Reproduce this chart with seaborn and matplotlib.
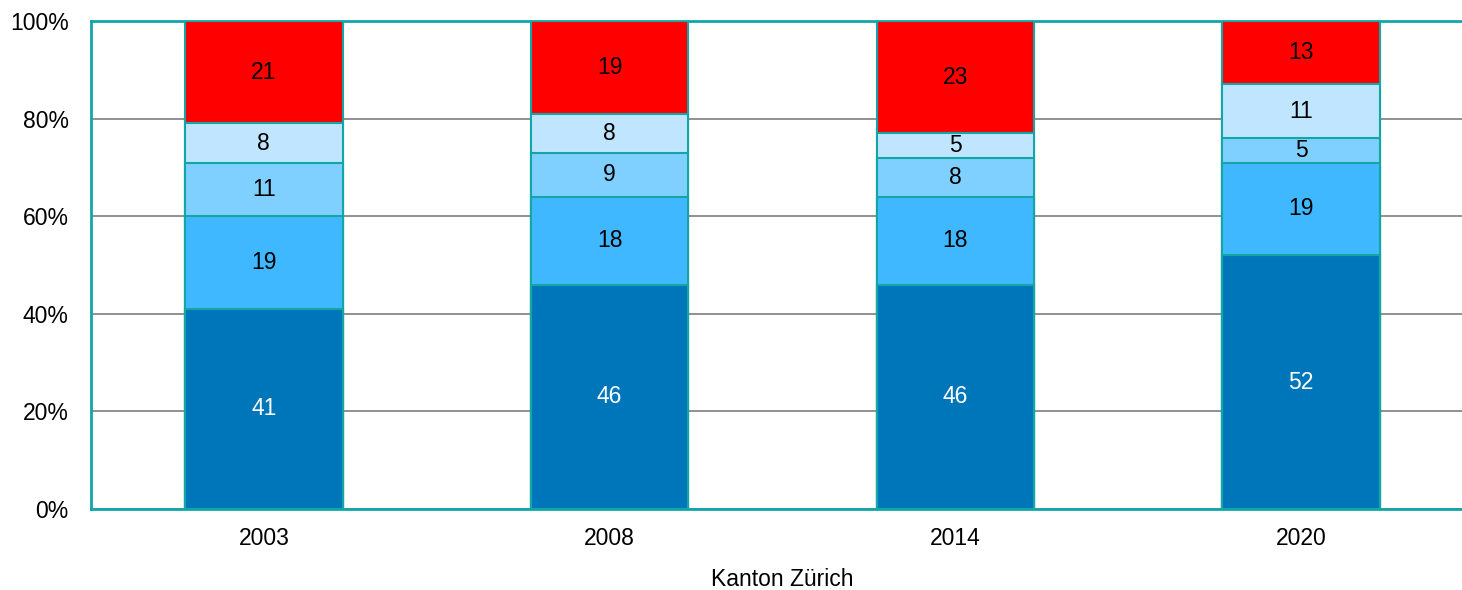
import numpy as np
import pandas as pd
import matplotlib
matplotlib.use('Agg')
import matplotlib.pyplot as plt
import seaborn as sns

years = ['2003', '2008', '2014', '2020']
seg1 = [41, 46, 46, 52]
seg2 = [19, 18, 18, 19]
seg3 = [11, 9, 8, 5]
seg4 = [8, 8, 5, 11]
seg5 = [21, 19, 23, 13]

colors = ['#0076BA', '#40B8FF', '#80D0FF', '#C0E6FF', '#FF0000']
text_colors = ['white', 'black', 'black', 'black', 'black']
edge = '#13A6A6'

sns.set_style('white')
plt.rcParams['font.family'] = ['Liberation Sans', 'DejaVu Sans']
plt.rcParams['text.color'] = 'black'
plt.rcParams['xtick.color'] = 'black'
plt.rcParams['ytick.color'] = 'black'
plt.rcParams['axes.labelcolor'] = 'black'

segments = [seg1, seg2, seg3, seg4, seg5]
df = pd.DataFrame({'year': years})
cum = np.cumsum(np.array(segments), axis=0)

fig = plt.figure(figsize=(14.62, 5.90), dpi=100)
ax = fig.add_axes([91 / 1462, 81 / 590, (1474 - 91) / 1462, 488 / 590])

# draw cumulative totals from the top down so each layer sits on the previous
for i in range(len(segments) - 1, -1, -1):
    sns.barplot(x=df['year'], y=cum[i], order=years, color=colors[i],
                width=0.455, edgecolor=edge, linewidth=1.5, saturation=1,
                ax=ax, zorder=3)

for i, s in enumerate(segments):
    for j, v in enumerate(s):
        ax.text(j, cum[i][j] - v / 2, str(v), ha='center', va='center',
                fontsize=16.5, color=text_colors[i], zorder=5)

ax.set_ylim(0, 100)
ax.set_xlim(-0.5, 3.5)
ax.set_yticks([0, 20, 40, 60, 80, 100])
ax.set_yticklabels([f'{t}%' for t in [0, 20, 40, 60, 80, 100]], fontsize=16.5)
ax.tick_params(axis='x', labelsize=16.5, length=0, pad=13)
ax.tick_params(axis='y', length=0, pad=16)
ax.yaxis.grid(True, color='#888888', linewidth=1.3, zorder=0)
ax.set_axisbelow(True)
ax.set_xlabel('Kanton Zürich', fontsize=16.5, labelpad=13)
ax.set_ylabel('')

for side in ['left', 'bottom', 'top']:
    ax.spines[side].set_color(edge)
    ax.spines[side].set_linewidth(2)
ax.spines['right'].set_visible(False)

fig.savefig('out.png', dpi=100)
